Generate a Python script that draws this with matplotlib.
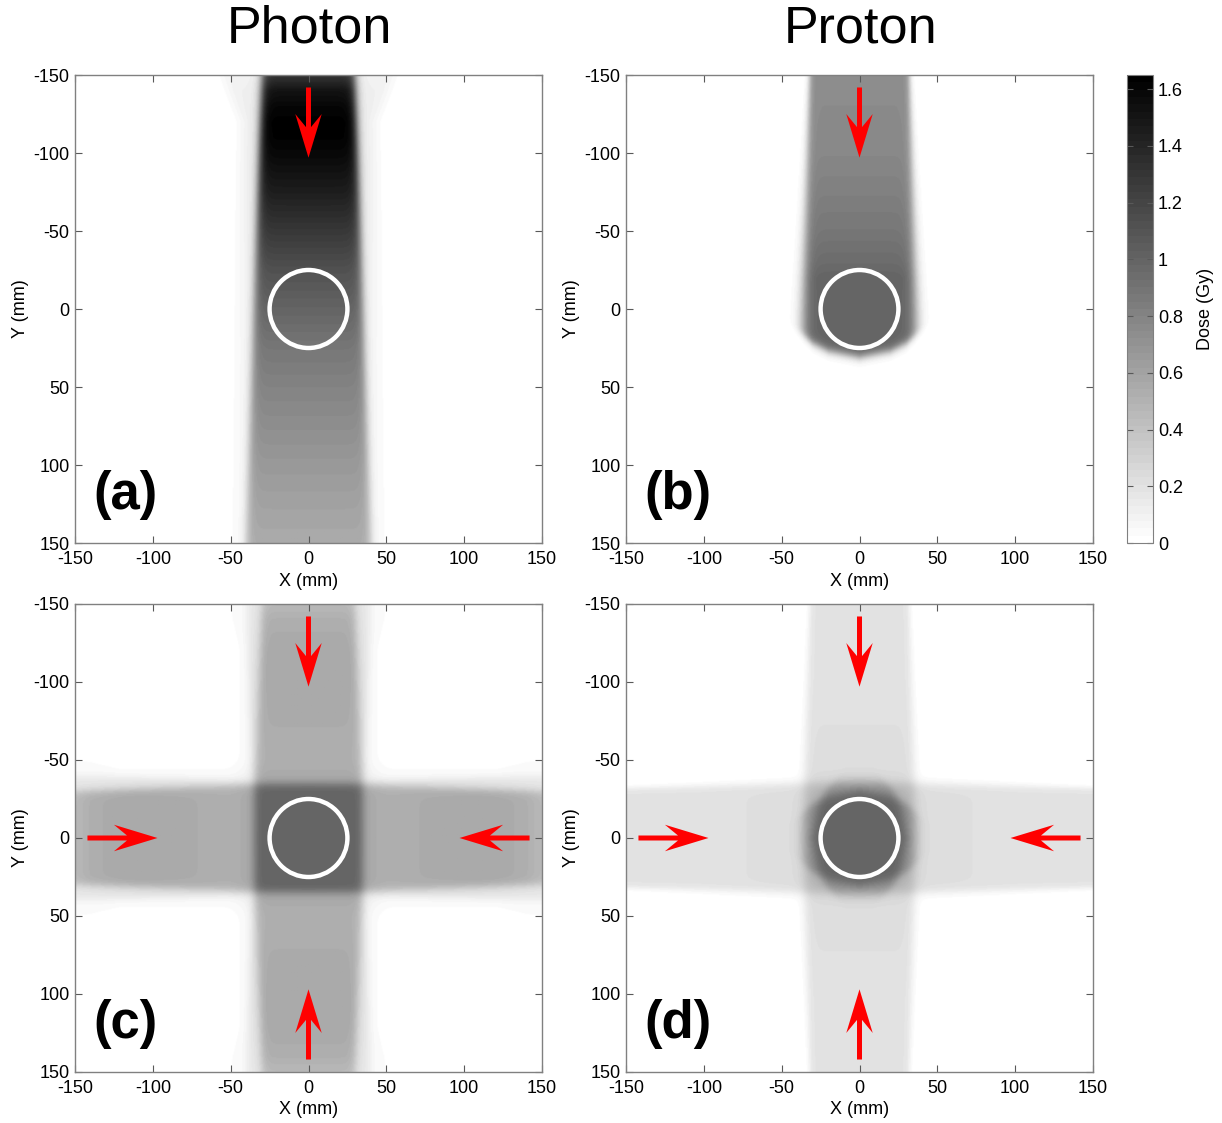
import numpy as np
import matplotlib.pyplot as plt
from matplotlib.patches import Circle, FancyArrow
from matplotlib.ticker import FuncFormatter

plt.rcParams['font.family'] = ['Liberation Sans', 'DejaVu Sans']
plt.rcParams['axes.unicode_minus'] = False

# Photon single beam: dose on the beam axis
photon_y = np.array([-150, -140, -130, -120, -110, -100, -75, -50, -25, 0, 25, 50, 75, 100, 125, 150])
photon_dose = np.array([1.30, 1.52, 1.60, 1.64, 1.63, 1.59, 1.45, 1.28, 1.12, 1.00, 0.88, 0.80, 0.73, 0.66, 0.60, 0.55])
# field half width (mm) at entrance / exit
photon_hw_y = np.array([-150, 150])
photon_hw = np.array([30, 40])
# low-dose scatter halo outside the field
photon_tail_y = np.array([-150, -120, 150])
photon_tail_extra = np.array([25, 12, 10])
photon_tail_frac = 0.07

# Proton single beam
proton_y = np.array([-150, -125, -100, -75, -50, -30, -20, 150])
proton_dose = np.array([0.74, 0.75, 0.77, 0.82, 0.88, 0.95, 1.00, 1.00])
proton_hw_y = np.array([-150, 30])
proton_hw = np.array([32, 37])
proton_pen = np.array([2.0, 5.0])
# distal edge position vs lateral offset
proton_distal_lat = np.array([0, 20, 30, 37, 45])
proton_distal_y = np.array([31, 27, 22, 16, 10])

beam_weight = 0.25   # four-field plans
target_radius = 25
dose_max = 1.65
cbar_ticks = [0, 0.2, 0.4, 0.6, 0.8, 1.0, 1.2, 1.4, 1.6]
axis_ticks = [-150, -100, -50, 0, 50, 100, 150]

grid = np.linspace(-150, 150, 601)
X, Y = np.meshgrid(grid, grid)


def edge(d, w):
    return 0.5 * (1 + np.tanh(d / w))


def photon_beam(lat, s):
    dd = np.interp(s, photon_y, photon_dose)
    hw = np.interp(s, photon_hw_y, photon_hw)
    extra = np.interp(s, photon_tail_y, photon_tail_extra)
    core = edge(hw - np.abs(lat), 3.2)
    tail = edge(hw + extra - np.abs(lat), 5.0)
    return dd * ((1 - photon_tail_frac) * core + photon_tail_frac * tail)


def proton_beam(lat, s):
    dd = np.interp(s, proton_y, proton_dose)
    hw = np.interp(s, proton_hw_y, proton_hw)
    w = np.interp(s, proton_hw_y, proton_pen)
    distal = np.interp(np.abs(lat), proton_distal_lat, proton_distal_y)
    return dd * edge(hw - np.abs(lat), w) * edge(distal - s, 3.5)


def four_field(beam):
    return beam_weight * (beam(X, Y) + beam(X, -Y) + beam(Y, X) + beam(Y, -X))


doses = [photon_beam(X, Y), proton_beam(X, Y), four_field(photon_beam), four_field(proton_beam)]
labels = ['(a)', '(b)', '(c)', '(d)']
n_arrows = [1, 1, 4, 4]

cmap = plt.get_cmap('gray_r', 64)

fig = plt.figure(figsize=(12.22, 11.23), dpi=100)
W, H = 1222, 1123
lefts = [75, 626]
tops = [75, 604]
aw, ah = 467, 468

# arrow directions; tail at 142 mm, tip at 97 mm from centre
arrow_dirs = [(0, 1), (0, -1), (1, 0), (-1, 0)]

im = None
for k in range(4):
    r, c = divmod(k, 2)
    ax = fig.add_axes([lefts[c] / W, 1 - (tops[r] + ah) / H, aw / W, ah / H])
    im = ax.imshow(doses[k], extent=(-150, 150, 150, -150), origin='upper',
                   cmap=cmap, vmin=0, vmax=dose_max, aspect='auto', interpolation='bilinear')
    ax.set_xlim(-150, 150)
    ax.set_ylim(150, -150)
    ax.set_xticks(axis_ticks)
    ax.set_yticks(axis_ticks)
    ax.tick_params(direction='in', top=True, right=True, length=5, width=0.8,
                   color='0.35', labelsize=13)
    ax.tick_params(axis='x', pad=6)
    ax.tick_params(axis='y', pad=4)
    for sp in ax.spines.values():
        sp.set_color('0.5')
        sp.set_linewidth(1.0)
    ax.set_xlabel('X (mm)', fontsize=13, labelpad=3)
    ax.set_ylabel('Y (mm)', fontsize=13, labelpad=3)

    ax.add_patch(Circle((0, 0), target_radius, fill=False, ec='white', lw=3.2, zorder=3))

    for dx, dy in arrow_dirs[:n_arrows[k]]:
        ax.add_patch(FancyArrow(-142 * dx, -142 * dy, 45 * dx, 45 * dy, width=3.2,
                                head_width=17, head_length=28, overhang=0.3,
                                length_includes_head=True, color='red', lw=0, zorder=4))

    ax.text(-138, 119, labels[k], fontsize=38, fontweight='bold', ha='left', va='center')

fig.text(309 / W, 1 - 29 / H, 'Photon', fontsize=37.5, ha='center', va='center')
fig.text(861 / W, 1 - 29 / H, 'Proton', fontsize=37.5, ha='center', va='center')

cax = fig.add_axes([1127 / W, 1 - 543 / H, 26 / W, 468 / H])
cb = fig.colorbar(im, cax=cax, ticks=cbar_ticks)
cb.ax.yaxis.set_major_formatter(FuncFormatter(lambda v, p: '%g' % v))
cb.ax.tick_params(direction='in', left=True, right=True, length=4, color='0.35', labelsize=13)
cb.outline.set_edgecolor('0.5')
cb.set_label('Dose (Gy)', fontsize=13, labelpad=10)

fig.savefig('out.png', dpi=100)
